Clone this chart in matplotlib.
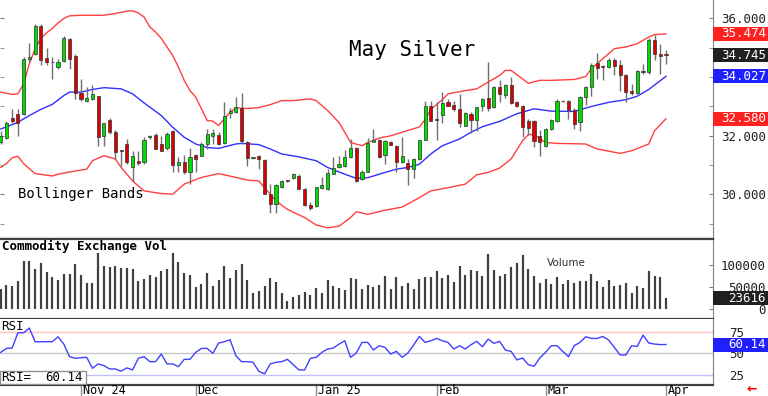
import numpy as np
import matplotlib
matplotlib.use("Agg")
import matplotlib.pyplot as plt
from matplotlib.patches import Rectangle
from matplotlib.transforms import blended_transform_factory

plt.rcParams['font.family'] = ['DejaVu Sans Mono', 'DejaVu Sans']

# daily bars, Oct 14 2024 .. Apr 1 2025 (index = trading day)
opens = [31.80, 31.91, 32.61, 32.73, 32.73, 34.62, 34.78, 35.75, 34.66, 34.52,
         34.34, 34.55, 35.29, 34.72, 33.47, 33.17, 33.26, 33.34, 32.00, 32.55,
         32.12, 31.50, 31.72, 30.92, 31.15, 31.09, 31.96, 32.04, 31.72, 31.58,
         32.15, 31.00, 31.12, 30.77, 31.34, 31.32, 31.72, 32.00, 32.04, 31.74,
         32.78, 32.82, 32.95, 31.80, 31.23, 31.30, 31.17, 30.03, 29.66, 30.26,
         30.47, 30.55, 30.64, 30.18, 29.64, 29.61, 30.23, 30.18, 30.71, 30.92,
         30.97, 31.26, 31.57, 30.54, 30.77, 31.80, 31.84, 31.35, 31.80, 31.64,
         31.11, 31.06, 30.86, 31.21, 31.86, 33.01, 32.56, 32.72, 33.16, 33.06,
         32.92, 32.35, 32.75, 32.53, 33.00, 33.28, 32.97, 33.68, 33.40, 33.72,
         33.14, 33.03, 32.52, 32.49, 32.00, 31.66, 32.23, 32.52, 33.19, 33.18,
         32.89, 32.46, 33.32, 33.68, 34.48, 34.38, 34.34, 34.60, 34.40, 34.06,
         33.51, 33.47, 34.21, 34.17, 35.28, 34.80, 34.76]
highs = [32.15, 32.50, 32.93, 32.93, 34.70, 35.15, 35.80, 35.80, 34.99, 34.69,
         34.62, 35.40, 35.33, 34.80, 33.92, 33.66, 33.72, 33.36, 32.45, 32.60,
         32.20, 31.52, 31.89, 31.49, 31.49, 31.95, 32.03, 32.08, 32.00, 32.12,
         32.18, 31.26, 31.35, 31.57, 31.37, 31.78, 32.23, 32.23, 32.12, 33.14,
         32.95, 33.32, 33.47, 31.82, 31.28, 31.33, 31.20, 30.37, 30.37, 30.50,
         30.49, 30.72, 30.70, 30.22, 29.75, 30.26, 30.58, 30.86, 31.26, 31.32,
         31.51, 31.89, 31.62, 30.82, 31.91, 32.23, 31.90, 31.84, 31.83, 31.67,
         31.95, 31.21, 31.24, 31.86, 33.20, 33.20, 33.14, 33.49, 33.25, 33.20,
         33.43, 32.82, 32.80, 32.99, 33.30, 34.51, 33.70, 33.89, 33.78, 34.00,
         33.20, 33.05, 32.58, 32.55, 32.18, 32.25, 32.57, 33.27, 33.22, 33.22,
         32.95, 33.35, 33.70, 34.48, 34.82, 34.40, 34.65, 34.65, 34.57, 34.12,
         33.75, 34.24, 34.46, 35.32, 35.43, 35.14, 34.91]
lows = [31.72, 31.88, 32.45, 32.00, 32.70, 34.51, 34.75, 34.40, 34.40, 33.95,
        34.28, 34.52, 34.29, 33.26, 33.20, 33.14, 33.22, 31.66, 31.66, 32.05,
        31.21, 30.98, 31.05, 30.46, 31.02, 31.05, 31.90, 31.55, 31.49, 31.50,
        30.75, 30.75, 30.70, 30.35, 30.75, 31.30, 31.55, 31.72, 31.68, 31.72,
        32.60, 32.78, 31.72, 30.98, 31.20, 30.86, 30.03, 29.38, 29.38, 30.22,
        30.43, 30.52, 30.18, 29.61, 29.47, 29.58, 30.20, 30.15, 30.68, 30.90,
        30.95, 31.23, 30.44, 30.50, 30.75, 31.78, 31.24, 31.03, 31.68, 30.78,
        31.08, 30.33, 30.55, 31.18, 31.84, 32.49, 31.84, 32.45, 33.00, 32.85,
        32.31, 32.33, 32.08, 32.15, 32.85, 32.86, 32.94, 33.14, 33.30, 33.08,
        32.98, 31.97, 32.02, 31.63, 31.32, 31.62, 32.18, 32.46, 33.15, 32.58,
        32.23, 32.17, 33.05, 33.37, 33.95, 33.91, 34.30, 34.06, 33.52, 33.14,
        33.40, 33.44, 34.10, 34.10, 34.57, 34.12, 34.46]
closes = [31.98, 32.44, 32.51, 32.44, 34.63, 34.68, 35.75, 34.60, 34.51, 34.50,
          34.51, 35.34, 34.63, 33.47, 33.24, 33.28, 33.43, 31.95, 32.42, 32.12,
          31.46, 31.48, 31.11, 31.32, 31.07, 31.86, 31.98, 31.55, 31.49, 32.07,
          31.00, 31.11, 30.77, 31.26, 31.21, 31.72, 32.06, 32.08, 31.72, 32.66,
          32.86, 32.97, 31.81, 31.24, 31.26, 31.21, 30.03, 29.69, 30.33, 30.46,
          30.45, 30.68, 30.18, 29.64, 29.55, 30.26, 30.33, 30.72, 30.90, 31.03,
          31.28, 31.58, 30.46, 30.77, 31.74, 31.86, 31.26, 31.81, 31.70, 31.09,
          31.32, 30.86, 31.21, 31.84, 33.03, 32.52, 32.54, 33.13, 33.01, 32.92,
          32.45, 32.77, 32.53, 32.97, 33.27, 32.95, 33.66, 33.41, 33.72, 33.11,
          33.01, 32.31, 32.27, 31.83, 31.80, 32.23, 32.54, 33.20, 33.17, 32.88,
          32.40, 33.32, 33.68, 34.43, 34.31, 34.36, 34.60, 34.37, 34.06, 33.49,
          33.47, 34.21, 34.17, 35.28, 34.80, 34.72, 34.745]
volume = [46000, 54000, 52000, 64000, 109000, 109000, 91000, 105000, 83000, 73000,
          65000, 80000, 80000, 102000, 77000, 58000, 59000, 127000, 98000, 96000,
          97000, 94000, 94000, 90000, 63000, 67000, 77000, 73000, 87000, 90000,
          127000, 108000, 81000, 78000, 49000, 56000, 82000, 52000, 65000, 99000,
          70000, 89000, 102000, 66000, 36000, 41000, 51000, 70000, 61000, 35000,
          17000, 27000, 32000, 39000, 32000, 47000, 36000, 66000, 51000, 47000,
          43000, 71000, 68000, 46000, 54000, 50000, 54000, 75000, 44000, 72000,
          52000, 58000, 45000, 67000, 73000, 72000, 87000, 70000, 77000, 60000,
          97000, 77000, 88000, 86000, 75000, 125000, 88000, 75000, 80000, 95000,
          104000, 123000, 90000, 75000, 59000, 67000, 56000, 72000, 56000, 65000,
          59000, 63000, 63000, 80000, 63000, 50000, 65000, 52000, 54000, 58000,
          35000, 52000, 48000, 87000, 75000, 72000, 23616]
rsi = [51.1, 55.7, 56.1, 73.7, 73.7, 79.1, 63.4, 63.4, 63.4, 63.4,
       69.1, 60.7, 46.2, 44.3, 45.0, 45.4, 32.8, 37.8, 35.9, 32.0,
       32.0, 29.4, 33.2, 30.9, 44.3, 46.2, 40.4, 40.4, 49.2, 37.8,
       37.8, 34.7, 43.1, 43.1, 51.1, 55.7, 55.7, 50.0, 61.9, 63.4,
       65.7, 47.3, 40.4, 40.4, 39.7, 29.4, 26.3, 37.8, 39.7, 40.4,
       43.1, 37.0, 30.9, 30.9, 44.3, 45.4, 51.1, 55.0, 56.1, 60.7,
       64.5, 45.4, 50.4, 62.6, 62.6, 53.8, 58.8, 56.9, 49.2, 52.3,
       45.4, 50.4, 59.6, 69.5, 62.6, 64.5, 67.2, 64.5, 62.6, 55.0,
       58.8, 55.0, 59.9, 63.8, 57.6, 66.4, 61.5, 63.8, 53.8, 52.3,
       42.4, 44.6, 37.0, 35.1, 44.6, 51.1, 58.8, 58.8, 52.3, 46.2,
       58.8, 62.6, 69.1, 67.2, 67.2, 69.5, 65.3, 56.9, 48.1, 48.1,
       58.8, 58.0, 71.0, 61.9, 60.7, 60.1, 60.14]

# Bollinger bands (bar index, value)
upper_idx = [0, 2, 3, 4, 5, 6, 7, 8, 9, 10, 11, 12, 14, 16, 18, 20, 22, 23, 24, 25,
             26, 27, 28, 29, 30, 31, 32, 33, 34, 35, 36, 37, 38, 39, 40, 41, 43, 45, 47, 49,
             51, 54, 55, 57, 59, 60, 61, 63, 64, 66, 68, 70, 73, 74, 75, 77, 78, 81, 83, 85,
             87, 88, 89, 92, 94, 96, 100, 102, 103, 105, 107, 109, 111, 113, 114, 116]
upper = [33.49, 33.41, 33.43, 33.77, 34.46, 34.97, 35.32, 35.51, 35.66, 35.85, 36.00, 36.09,
         36.11, 36.11, 36.11, 36.17, 36.25, 36.26, 36.19, 36.05, 35.71, 35.54, 35.32, 35.03,
         34.74, 34.34, 33.89, 33.54, 33.32, 32.92, 32.52, 32.50, 32.35, 32.58, 32.80, 32.95,
         32.93, 32.96, 33.06, 33.20, 33.20, 33.26, 33.20, 32.86, 32.45, 32.12, 31.77, 31.66,
         31.77, 31.92, 32.00, 32.12, 32.30, 32.55, 32.90, 33.23, 33.43, 33.54, 33.60, 33.83,
         34.06, 34.23, 34.23, 33.79, 33.89, 33.89, 33.92, 34.02, 34.29, 34.63, 34.97, 35.03,
         35.14, 35.37, 35.45, 35.474]
mid_idx = [0, 2, 3, 5, 7, 9, 11, 12, 14, 16, 18, 21, 23, 25, 28, 30, 32, 34, 36, 38,
           41, 42, 45, 47, 49, 52, 55, 57, 60, 62, 64, 67, 69, 71, 73, 75, 77, 80, 82, 84,
           87, 90, 93, 96, 100, 103, 106, 109, 111, 113, 116]
middle = [32.23, 32.38, 32.46, 32.69, 32.90, 33.07, 33.37, 33.49, 33.49, 33.58, 33.64,
          33.60, 33.43, 33.12, 32.69, 32.29, 31.95, 31.72, 31.60, 31.57, 31.72, 31.74,
          31.70, 31.55, 31.38, 31.28, 31.15, 30.92, 30.69, 30.55, 30.57, 30.75, 30.86,
          30.92, 31.03, 31.38, 31.66, 31.89, 32.12, 32.31, 32.49, 32.75, 32.92, 32.84,
          32.83, 33.00, 33.14, 33.23, 33.35, 33.58, 34.027]
lower_idx = [0, 1, 2, 3, 4, 6, 9, 10, 13, 15, 16, 18, 20, 21, 23, 25, 28, 30, 32, 35,
             38, 41, 43, 45, 46, 48, 50, 53, 55, 57, 59, 61, 62, 64, 67, 70, 73, 75, 78, 81,
             83, 85, 87, 89, 91, 92, 93, 95, 97, 102, 104, 108, 110, 113, 114, 116]
lower = [30.92, 31.05, 31.25, 31.30, 31.05, 30.71, 30.63, 30.69, 30.80, 30.86, 31.15,
         31.32, 31.21, 30.92, 30.46, 30.12, 30.03, 30.01, 30.35, 30.58, 30.71, 30.58,
         30.49, 30.46, 30.23, 29.78, 29.49, 29.21, 28.96, 28.86, 28.92, 29.21, 29.41,
         29.32, 29.46, 29.57, 29.89, 30.12, 30.23, 30.35, 30.67, 30.75, 30.90, 31.21,
         31.83, 32.04, 32.04, 31.77, 31.74, 31.72, 31.55, 31.40, 31.49, 31.72, 32.17, 32.58]

month_pos = [14, 34, 55, 76, 95, 116]
month_lbl = ["Nov 24", "Dec", "Jan 25", "Feb", "Mar", "Apr"]

n = len(closes)
x = np.arange(n)
o = np.array(opens); c = np.array(closes)
h = np.array(highs); l = np.array(lows)

W, H = 768, 396
fig = plt.figure(figsize=(W / 100, H / 100), dpi=100)
def px_axes(top, bottom, right=713):
    return fig.add_axes([0, 1 - bottom / H, right / W, (bottom - top) / H])

ax = px_axes(0, 239)
axv = px_axes(239, 319)
axr = px_axes(319, 385)
xlim = (-0.12, 124.2)

# --- price panel
up = c >= o
cols = np.where(up, '#00dd00', '#dd0000')
ax.vlines(x, l, h, color='#707070', lw=1, zorder=2)
ax.bar(x, np.maximum(np.abs(c - o), 0.03), bottom=np.minimum(o, c), width=0.55,
       color=cols, edgecolor='#303030', linewidth=0.5, zorder=3)
ax.plot(upper_idx, upper, color='#ff4040', lw=1, zorder=1)
ax.plot(lower_idx, lower, color='#ff4040', lw=1, zorder=1)
ax.plot(mid_idx, middle, color='#3030ff', lw=1, zorder=1)
ax.set_ylim(28.48, 36.63)
# 34.000 sits under the 34.027 box in the original, so no label there
ax.set_yticks([30, 32, 36])
ax.set_yticklabels(["30.000", "32.000", "36.000"])
ax.set_yticks(np.arange(29, 37), minor=True)
ax.text(0.578, 0.79, "May Silver", transform=ax.transAxes, fontsize=15,
        ha='center', va='center')
ax.text(0.025, 0.189, "Bollinger Bands", transform=ax.transAxes, fontsize=10,
        ha='left', va='center')

# --- volume panel
axv.vlines(x, 0, volume, color='#404040', lw=1.6)
axv.set_ylim(-24000, 160000)
axv.set_yticks([0, 50000, 100000])
axv.set_yticklabels(["0", "50000", "100000"])
axv.text(0.003, 0.9125, "Commodity Exchange Vol", transform=axv.transAxes,
         fontsize=9, ha='left', va='center', fontweight='bold')
axv.text(0.795, 0.70, "Volume", transform=axv.transAxes, fontsize=7.5,
         ha='center', va='center', family='DejaVu Sans', color='#303030')

# --- RSI panel
axr.axhline(75, color='#ffc0c0', lw=1)
axr.axhline(50, color='#c8c8c8', lw=1)
axr.axhline(25, color='#c0c0ff', lw=1)
axr.plot(x, rsi, color='#4040ff', lw=1)
axr.set_ylim(13.5, 89.6)
axr.set_yticks([25, 50, 75])
axr.set_yticklabels(["25", "50", "75"])
axr.text(0.002, 0.879, "RSI", transform=axr.transAxes, fontsize=9,
         ha='left', va='center')
axr.add_patch(Rectangle((0, 0.015), 0.1206, 0.197, transform=axr.transAxes,
                        fc='white', ec='#909090', lw=1, zorder=6))
axr.text(0.002, 0.114, "RSI=", transform=axr.transAxes, fontsize=9,
         ha='left', va='center', zorder=7)
axr.text(0.116, 0.114, "60.14", transform=axr.transAxes, fontsize=9,
         ha='right', va='center', zorder=7)

# month ticks + labels below rsi panel
axr.set_xticks(month_pos)
axr.set_xticklabels([])
axr.tick_params(axis='x', direction='out', length=11, color='#909090', width=1)
for p, s in zip(month_pos, month_lbl):
    axr.text(p + 0.3, -0.09, s, transform=blended_transform_factory(axr.transData, axr.transAxes),
             fontsize=8.5, ha='left', va='center')

label_end = {ax: 53, axv: 53, axr: 31}
for a in (ax, axv, axr):
    a.set_xlim(*xlim)
    a.set_facecolor('white')
    for s in ('left', 'top'):
        a.spines[s].set_visible(False)
    a.spines['right'].set_color('#808080')
    a.spines['bottom'].set_color('#404040')
    a.spines['bottom'].set_linewidth(1.6)
    a.yaxis.tick_right()
    a.tick_params(axis='y', which='both', direction='in', length=3, color='#808080',
                  labelsize=9, pad=label_end[a] * 0.72, labelcolor='#202020')
    for t in a.get_yticklabels():
        t.set_ha('right')
    if a is not axr:
        a.set_xticks([])
ax.tick_params(axis='y', which='both', left=True)
axv.spines['top'].set_visible(True)
axv.spines['top'].set_color('#404040')
axv.spines['top'].set_linewidth(1.6)

# value boxes on the right axis
def value_box(a, val, txt, fc, hpx=14):
    lo, hi = a.get_ylim()
    ax_h = a.get_position().height * H
    hh = hpx * (hi - lo) / ax_h
    tr = blended_transform_factory(a.transAxes, a.transData)
    a.add_patch(Rectangle((1.0, val - hh / 2), 55 / 713, hh, transform=tr,
                          fc=fc, ec='none', clip_on=False, zorder=8))
    a.text(766 / 713, val, txt, transform=tr, color='white', fontsize=9,
           ha='right', va='center', zorder=9, clip_on=False)

value_box(ax, 35.474, "35.474", '#ff2020')
value_box(ax, 34.745, "34.745", '#202020')
value_box(ax, 34.027, "34.027", '#2020ff')
value_box(ax, 32.580, "32.580", '#ff2020')
value_box(axv, 23616, "23616", '#202020')
value_box(axr, 60.14, "60.14", '#2020ff')

fig.text(752 / W, 1 - 389 / H, "\u2190", color='red', fontsize=9,
         fontweight='bold', ha='center', va='center', family='DejaVu Sans')

fig.savefig("out.png", dpi=100)
